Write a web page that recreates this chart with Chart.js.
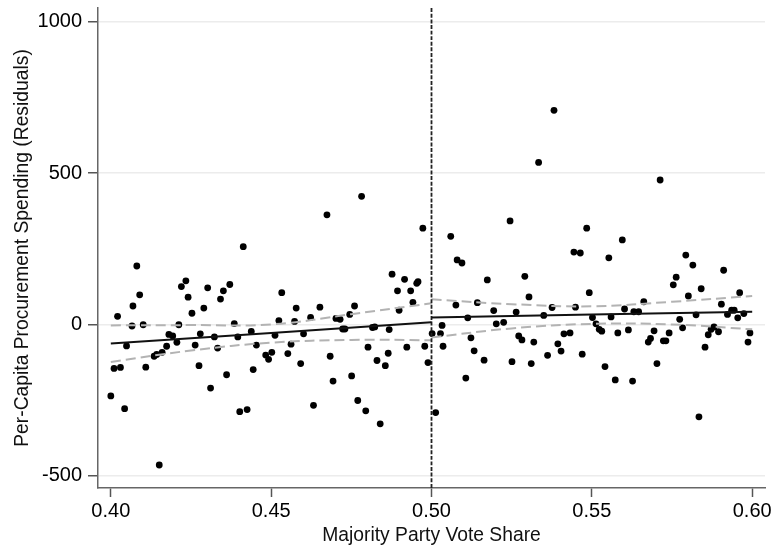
<!DOCTYPE html>
<html>
<head>
<meta charset="utf-8">
<script src="https://cdn.jsdelivr.net/npm/chart.js@4.4.0/dist/chart.umd.min.js"></script>
<style>
  html, body { margin: 0; padding: 0; background: #fff; }
</style>
</head>
<body>
<canvas id="chart" width="774" height="550"></canvas>
<script>
// scatter of residual spending against vote share
var voteShare = [
    0.4000, 0.4010, 0.4030, 0.4021, 0.4043, 0.4049, 0.4066, 0.4069, 0.4081, 0.4090,
    0.4101, 0.4109, 0.4135, 0.4143, 0.4151, 0.4160, 0.4174, 0.4181, 0.4193, 0.4206,
    0.4212, 0.4220, 0.4234, 0.4241, 0.4253, 0.4263, 0.4275, 0.4279, 0.4290, 0.4302,
    0.4311, 0.4323, 0.4333, 0.4342, 0.4351, 0.4361, 0.4371, 0.4385, 0.4396, 0.4402,
    0.4413, 0.4425, 0.4438, 0.4444, 0.4454, 0.4483, 0.4492, 0.4502, 0.4512, 0.4524,
    0.4533, 0.4552, 0.4562, 0.4573, 0.4578, 0.4592, 0.4601, 0.4623, 0.4632, 0.4652,
    0.4674, 0.4684, 0.4693, 0.4702, 0.4715, 0.4723, 0.4730, 0.4745, 0.4751, 0.4760,
    0.4770, 0.4782, 0.4795, 0.4802, 0.4816, 0.4823, 0.4830, 0.4840, 0.4856, 0.4865,
    0.4868, 0.4877, 0.4894, 0.4899, 0.4916, 0.4923, 0.4935, 0.4942, 0.4954, 0.4958,
    0.4973, 0.4979, 0.4989,
    0.5002, 0.5013, 0.5028, 0.5033, 0.5036, 0.5060, 0.5076, 0.5080, 0.5095, 0.5107,
    0.5113, 0.5123, 0.5133, 0.5143, 0.5164, 0.5174, 0.5194, 0.5202, 0.5225, 0.5245,
    0.5251, 0.5264, 0.5272, 0.5282, 0.5291, 0.5304, 0.5311, 0.5319, 0.5334, 0.5350,
    0.5362, 0.5376, 0.5382, 0.5394, 0.5404, 0.5413, 0.5432, 0.5444, 0.5449, 0.5464,
    0.5470, 0.5484, 0.5492, 0.5502, 0.5513, 0.5523, 0.5531, 0.5541, 0.5553, 0.5560,
    0.5573, 0.5581, 0.5595, 0.5602, 0.5614, 0.5627, 0.5631, 0.5646, 0.5662, 0.5676,
    0.5683, 0.5694, 0.5703, 0.5713, 0.5723, 0.5731, 0.5741, 0.5754, 0.5763, 0.5774,
    0.5783, 0.5793, 0.5801, 0.5815, 0.5825, 0.5834, 0.5841, 0.5853, 0.5863, 0.5872,
    0.5881, 0.5895, 0.5904, 0.5911, 0.5923, 0.5936, 0.5944, 0.5955, 0.5961, 0.5974,
    0.5987, 0.5993
];
var residual = [
    -236, -145, -142, 27, -278, -71, -5, 61, 193, 98,
    -1, -141, -105, -99, -464, -92, -72, -33, -38, -59,
    -1, 125, 144, 90, 37, -68, -136, -31, 54, 121,
    -210, -41, -78, 84, 111, -166, 132, 3, -41, -288,
    257, -281, -23, -149, -68, -101, -115, -92, -36, 13,
    105, -96, -65, 10, 54, -129, -31, 23, -267, 57,
    362, -105, -187, 20, 17, -15, -15, 33, -170, 61,
    -251, 423, -285, -75, -10, -8, -119, -328, -136, -95,
    -17, 166, 111, 47, 149, -75, 111, 73, 136, 141,
    318, -72, -126,
    -30, -291, -30, -3, -72, 291, 64, 213, 203, -177,
    22, -44, -87, 72, -118, 147, 46, 2, 7, 342,
    -123, 41, -38, -51, 159, 91, -129, -58, 535, 30,
    -102, 56, 707, -64, -88, -31, -28, 239, 57, 236,
    -98, 318, 105, 23, 2, -16, -22, -139, 220, 25,
    -183, -28, 279, 51, -18, -187, 42, 42, 75, -58,
    -46, -21, -129, 477, -54, -54, -28, 131, 156, 17,
    -11, 229, 94, 196, 32, -305, 118, -75, -34, -16,
    -8, -24, 67, 179, 33, 47, 47, 22, 105, 36,
    -58, -28
];

// linear fits on each side of the cutoff
var fitXLeft = [0.40, 0.50];
var fitLeft = [-63, 7];
var fitXRight = [0.50, 0.60];
var fitRight = [23, 42];

// 95% confidence bands
var ciXLeft = [0.40, 0.425, 0.45, 0.475, 0.50];
var ciUpperLeft = [-3, -2, 0, 34, 70];
var ciLowerLeft = [-124, -86, -60, -51, -52];
var ciXRight = [0.50, 0.525, 0.55, 0.575, 0.60];
var ciUpperRight = [83, 67, 60, 75, 94];
var ciLowerRight = [-43, -13, 2, 0, -16];

var cutoff = 0.50;
var xTicks = [0.40, 0.45, 0.50, 0.55, 0.60];
var yTicks = [-500, 0, 500, 1000];
var xMin = 0.396, xMax = 0.604;
var yMin = -540, yMax = 1045;

var FONT = 'Liberation Sans, Arial, sans-serif';

function pairs(xs, ys) {
    return xs.map(function (x, i) { return { x: x, y: ys[i] }; });
}

function lineSet(data, color, width, dash, order) {
    return {
        type: 'line',
        data: data,
        borderColor: color,
        borderWidth: width,
        borderDash: dash,
        pointRadius: 0,
        fill: false,
        tension: 0.4,
        order: order
    };
}

// keep the plot box fixed, labels are allowed to hang over the edges
function noEdgePadding(s) {
    s.paddingTop = 0;
    s.paddingBottom = 0;
    s.paddingLeft = 0;
    s.paddingRight = 0;
}

var ctx = document.getElementById('chart').getContext('2d');
new Chart(ctx, {
    type: 'scatter',
    data: {
        datasets: [
            lineSet(pairs(ciXLeft, ciUpperLeft), '#b3b3b3', 2, [10, 5], 2),
            lineSet(pairs(ciXLeft, ciLowerLeft), '#b3b3b3', 2, [10, 5], 2),
            lineSet(pairs(ciXRight, ciUpperRight), '#b3b3b3', 2, [10, 5], 2),
            lineSet(pairs(ciXRight, ciLowerRight), '#b3b3b3', 2, [10, 5], 2),
            lineSet(pairs(fitXLeft, fitLeft), '#111', 2, [], 1),
            lineSet(pairs(fitXRight, fitRight), '#111', 2, [], 1),
            lineSet(pairs([cutoff, cutoff], [yMin, yMax]), '#222', 1.8, [4, 1.6], 1),
            {
                data: pairs(voteShare, residual),
                backgroundColor: '#000',
                borderWidth: 0,
                pointRadius: 3.4,
                order: 3
            }
        ]
    },
    options: {
        responsive: false,
        animation: false,
        layout: { padding: { top: 8, right: 9, left: 0, bottom: 0 } },
        plugins: {
            legend: { display: false },
            tooltip: { enabled: false }
        },
        scales: {
            x: {
                type: 'linear',
                min: xMin,
                max: xMax,
                afterBuildTicks: function (s) {
                    s.ticks = xTicks.map(function (v) { return { value: v }; });
                },
                afterFit: function (s) { s.height = 62; noEdgePadding(s); },
                ticks: {
                    autoSkip: false,
                    maxRotation: 0,
                    padding: 2,
                    color: '#000',
                    font: { family: FONT, size: 20 },
                    callback: function (v) { return v.toFixed(2); }
                },
                grid: {
                    drawOnChartArea: false,
                    drawTicks: true,
                    tickLength: 9,
                    tickColor: '#555',
                    tickWidth: 1.5
                },
                border: { color: '#666', width: 1.5 },
                title: {
                    display: true,
                    text: 'Majority Party Vote Share',
                    color: '#111',
                    font: { family: FONT, size: 19.3 },
                    padding: { top: 0, bottom: 3 }
                }
            },
            y: {
                min: yMin,
                max: yMax,
                afterBuildTicks: function (s) {
                    s.ticks = yTicks.map(function (v) { return { value: v }; });
                },
                afterFit: function (s) { s.width = 98; noEdgePadding(s); },
                ticks: {
                    padding: 6,
                    color: '#000',
                    font: { family: FONT, size: 20 },
                    callback: function (v) { return String(v); }
                },
                grid: {
                    color: '#ececec',
                    lineWidth: 1.5,
                    drawTicks: true,
                    tickLength: 10,
                    tickColor: '#555',
                    tickWidth: 1.5
                },
                border: { color: '#666', width: 1.5 },
                title: {
                    display: true,
                    text: 'Per-Capita Procurement Spending (Residuals)',
                    color: '#111',
                    font: { family: FONT, size: 19.3 },
                    padding: { top: 11, bottom: 0 }
                }
            }
        }
    }
});
</script>
</body>
</html>
